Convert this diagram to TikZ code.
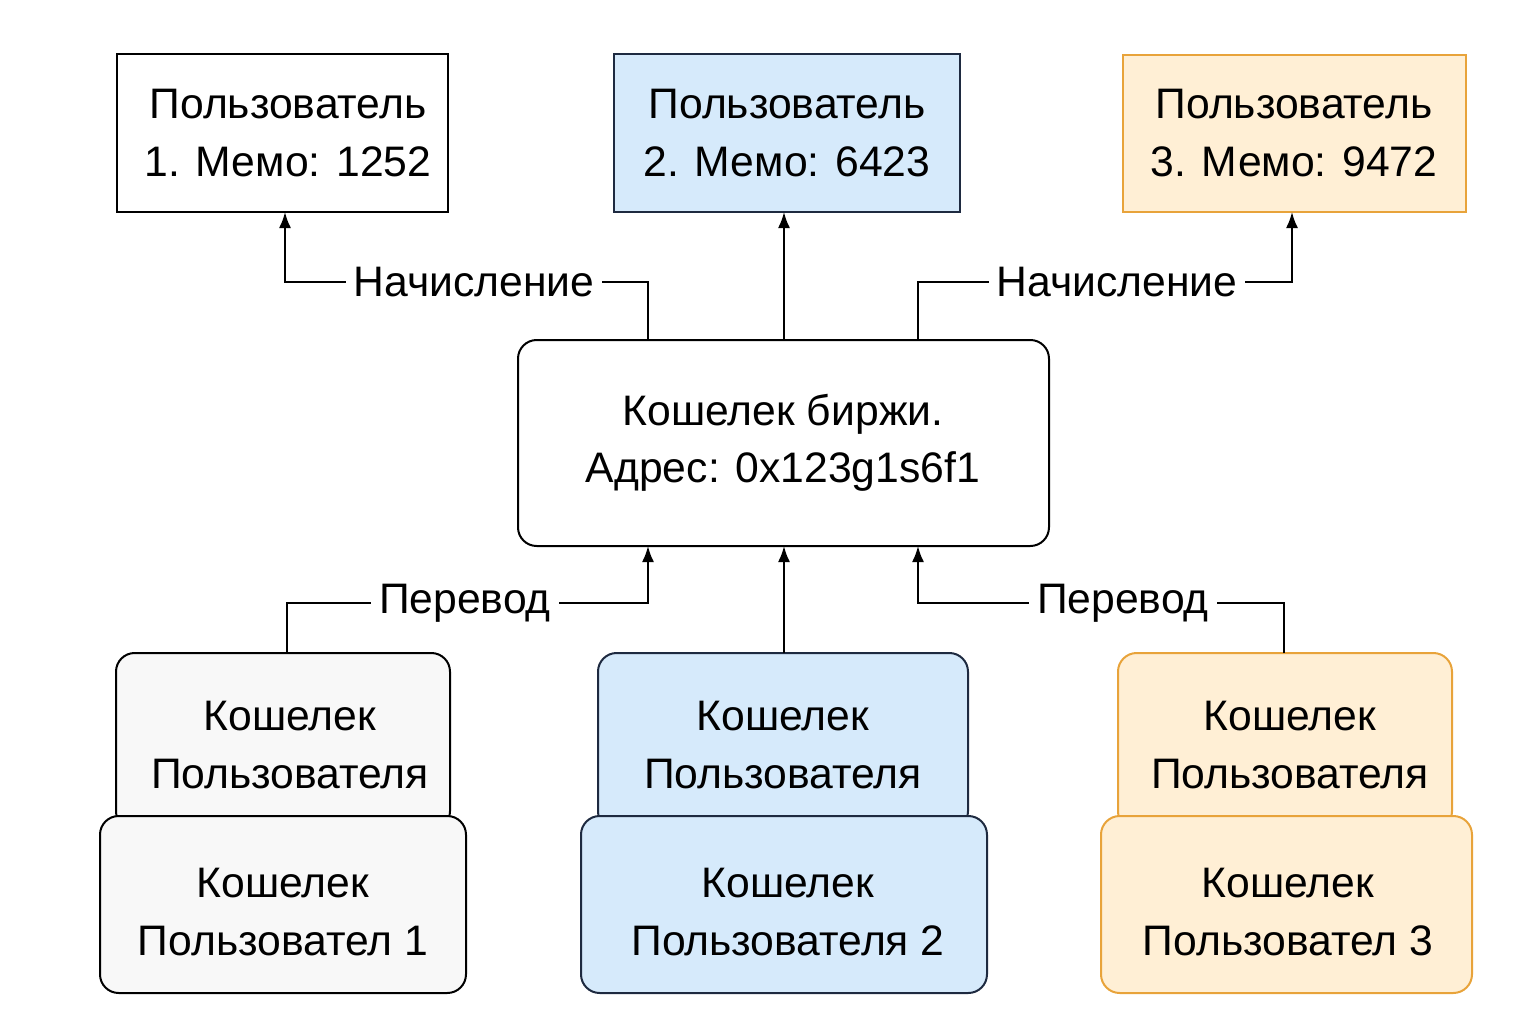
\documentclass[tikz,border=0pt]{standalone}
\usepackage{fontspec}
\setmainfont{Liberation Sans}
\usetikzlibrary{arrows.meta}
\definecolor{lblue}{HTML}{D6EAFB}
\definecolor{lorange}{HTML}{FFEFD5}
\definecolor{dorange}{HTML}{E8A33A}
\definecolor{lgray}{HTML}{F8F8F8}
\definecolor{dnavy}{HTML}{1E2A40}
\begin{document}
\begin{tikzpicture}[x=0.75pt,y=-0.75pt,
  txt/.style={font=\fontsize{32}{43}\selectfont,align=center},
  box/.style={draw,line width=1.5pt},
  rbox/.style={draw,line width=1.5pt,rounded corners=14pt},
  conn/.style={line width=1.5pt},
  arr/.style={line width=1.5pt,-{Latex[length=12pt,width=9pt]}},
  lab/.style={fill=white,inner xsep=6pt,font=\fontsize{32}{38}\selectfont}]
\useasboundingbox (0,0) rectangle (1536,1024);
% top boxes
\draw[box] (117,54) rectangle (448,212);
\node[txt] (u1) at (288,133) {Пользователь\\1. Мемо: 1252};
\draw[box,fill=lblue,draw=dnavy] (614,54) rectangle (960,212);
\node[txt] (u2) at (787,133) {Пользователь\\2. Мемо: 6423};
\draw[box,fill=lorange,draw=dorange] (1123,55) rectangle (1466,212);
\node[txt] (u3) at (1294,133) {Пользователь\\3. Мемо: 9472};
% center
\draw[rbox] (518,340) rectangle (1049,546);
\node[txt] (c) at (783,443) {Кошелек биржи.\\Адрес: 0x123g1s6f1};
% bottom
\draw[rbox,fill=lgray] (116,653) rectangle (450,830);
\node[txt] (b1) at (290,745) {Кошелек\\ Пользователя};
\draw[rbox,fill=lgray] (100,816) rectangle (466,993);
\node[txt] (f1) at (283,912) {Кошелек\\Пользовател 1};
\draw[rbox,fill=lblue,draw=dnavy] (598,653) rectangle (968,830);
\node[txt] (b2) at (783,745) {Кошелек\\Пользователя};
\draw[rbox,fill=lblue,draw=dnavy] (581,816) rectangle (987,993);
\node[txt] (f2) at (788,912) {Кошелек\\Пользователя 2};
\draw[rbox,fill=lorange,draw=dorange] (1118,653) rectangle (1452,830);
\node[txt] (b3) at (1290,745) {Кошелек\\Пользователя};
\draw[rbox,fill=lorange,draw=dorange] (1101,816) rectangle (1472,993);
\node[txt] (f3) at (1288,912) {Кошелек\\Пользовател 3};
% connectors top
\coordinate (t1) at (648,340); \coordinate (t3) at (918,340);
\coordinate (a1) at (285,212); \coordinate (a3) at (1292,212);
\draw[arr] (t1) |- (285,282) -- (a1);
\node[lab] (l1) at (474,282) {Начисление};
\draw[arr] (t3) |- (1292,282) -- (a3);
\node[lab] (l2) at (1117,282) {Начисление};
\draw[arr] (784,340) -- (784,212);
% connectors bottom
\coordinate (s1) at (287,653); \coordinate (s3) at (1284,653);
\draw[arr] (s1) |- (648,603) -- (648,546);
\node[lab] (p1) at (465,603) {Перевод};
\draw[arr] (s3) |- (918,603) -- (918,546);
\node[lab] (p2) at (1123,603) {Перевод};
\draw[arr] (784,653) -- (784,546);
\end{tikzpicture}
\end{document}
